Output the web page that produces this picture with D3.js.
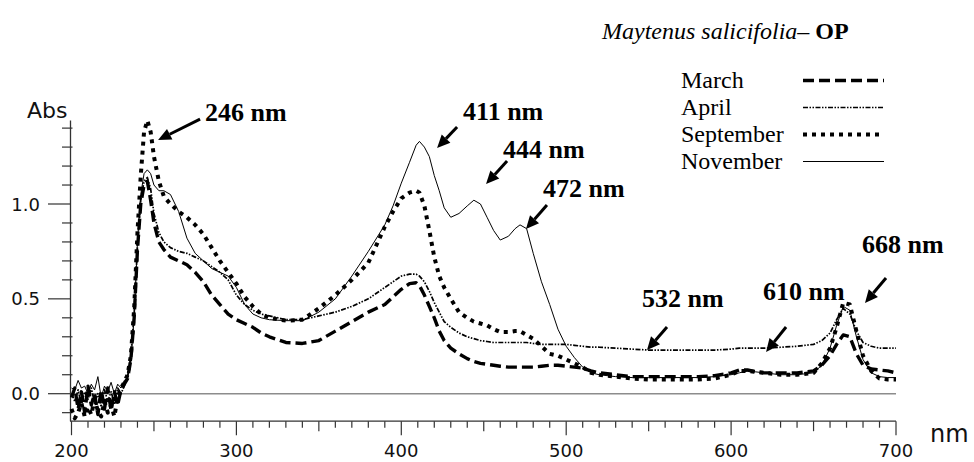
<!DOCTYPE html>
<html>
<head>
<meta charset="utf-8">
<script src="https://cdn.jsdelivr.net/npm/d3@7"></script>
<style>
  html, body { margin: 0; padding: 0; background: #fff; }
  svg { display: block; }
</style>
</head>
<body>
<svg id="chart" width="974" height="462"></svg>
<script>
// ---------------- DATA ----------------
const wavelengths = [
  200,202,204,206,208,210,212,214,216,218,220,222,224,226,228,230,232,234,236,
  238,240,242,244,246,248,250,253,256,260,265,270,275,280,285,290,295,300,305,310,315,320,
  330,340,350,360,370,380,390,395,400,405,409,411,414,417,420,423,426,430,435,440,444,448,452,456,460,465,469,472,476,480,485,490,495,500,505,510,515,520,
  530,540,550,560,570,580,590,600,
  605,610,615,620,630,640,650,655,660,664,668,672,676,680,685,690,695,700
];

const march = [
  -0.02,0.03,-0.08,0.01,-0.10,0.04,-0.06,0.00,-0.11,0.02,-0.08,0.03,-0.09,0.01,-0.06,0.02,0.05,0.08,0.18,
  0.40,0.76,1.00,1.10,1.12,1.02,0.90,0.80,0.76,0.72,0.70,0.68,0.64,0.59,0.52,0.47,0.42,0.39,0.37,0.35,0.32,0.30,
  0.27,0.265,0.28,0.33,0.38,0.43,0.47,0.51,0.55,0.58,0.585,0.57,0.52,0.46,0.40,0.33,0.28,0.24,0.21,0.185,0.17,0.16,0.155,0.15,0.145,0.14,0.14,0.14,0.14,0.14,0.145,0.15,0.15,0.145,0.14,0.135,0.12,0.11,
  0.10,0.09,0.09,0.09,0.09,0.09,0.095,0.11,
  0.125,0.125,0.115,0.11,0.11,0.11,0.12,0.15,0.20,0.26,0.31,0.30,0.21,0.15,0.13,0.125,0.12,0.11
];

const april = [
  0.00,-0.04,0.02,-0.06,0.01,-0.03,0.03,-0.05,0.00,-0.07,0.02,-0.04,0.01,-0.05,0.03,0.00,0.04,0.09,0.20,
  0.42,0.78,1.02,1.12,1.14,1.08,0.95,0.85,0.80,0.77,0.75,0.74,0.72,0.70,0.67,0.64,0.60,0.52,0.47,0.44,0.42,0.41,
  0.39,0.39,0.41,0.43,0.46,0.50,0.56,0.59,0.62,0.63,0.63,0.62,0.59,0.54,0.48,0.43,0.38,0.35,0.32,0.30,0.29,0.28,0.275,0.27,0.27,0.27,0.27,0.27,0.27,0.265,0.26,0.26,0.26,0.26,0.255,0.25,0.245,0.245,
  0.24,0.235,0.23,0.23,0.23,0.23,0.23,0.235,
  0.24,0.24,0.24,0.24,0.245,0.25,0.26,0.28,0.32,0.39,0.45,0.42,0.33,0.27,0.25,0.24,0.24,0.24
];

const september = [
  -0.08,-0.13,-0.10,-0.05,-0.12,-0.07,-0.11,-0.03,-0.09,-0.12,-0.04,-0.10,-0.06,-0.12,-0.02,0.03,0.06,0.10,0.20,
  0.45,0.85,1.15,1.38,1.44,1.38,1.25,1.12,1.04,1.00,0.96,0.93,0.89,0.84,0.77,0.70,0.64,0.58,0.51,0.46,0.42,0.40,
  0.385,0.39,0.45,0.52,0.60,0.69,0.88,0.96,1.03,1.06,1.07,1.06,0.99,0.86,0.72,0.62,0.56,0.50,0.43,0.40,0.38,0.37,0.36,0.34,0.325,0.325,0.33,0.33,0.31,0.29,0.25,0.21,0.20,0.18,0.16,0.14,0.11,0.10,
  0.09,0.08,0.075,0.075,0.075,0.075,0.08,0.10,
  0.12,0.12,0.115,0.11,0.10,0.10,0.11,0.16,0.24,0.35,0.48,0.47,0.33,0.20,0.12,0.08,0.075,0.075
];

const november = [
  0.03,0.02,0.07,0.03,0.04,0.00,0.05,0.02,0.09,-0.02,0.04,0.01,0.06,0.00,0.05,0.03,0.07,0.08,0.18,
  0.40,0.80,1.05,1.16,1.18,1.16,1.10,1.07,1.07,1.05,0.96,0.82,0.74,0.70,0.66,0.64,0.62,0.56,0.47,0.42,0.40,0.39,
  0.385,0.385,0.43,0.50,0.62,0.75,0.89,0.99,1.11,1.22,1.31,1.33,1.30,1.25,1.15,1.07,0.98,0.93,0.95,0.99,1.02,1.00,0.93,0.86,0.81,0.83,0.87,0.89,0.87,0.74,0.59,0.47,0.34,0.25,0.19,0.14,0.11,0.10,
  0.09,0.085,0.085,0.085,0.085,0.085,0.09,0.10,
  0.11,0.12,0.115,0.11,0.10,0.10,0.11,0.15,0.24,0.36,0.46,0.44,0.30,0.18,0.11,0.09,0.085,0.085
];

const seriesNames = ["March", "April", "September", "November"];
const xTickValues = [200, 300, 400, 500, 600, 700];
const yTickValues = [0.0, 0.5, 1.0];
const peakLabels = ["246 nm", "411 nm", "444 nm", "472 nm", "532 nm", "610 nm", "668 nm"];
const peakWavelengths = [252.5, 421.7, 451.4, 475.6, 549, 621.2, 681.2];
const peakAbs = [1.337, 1.295, 1.105, 0.868, 0.23, 0.22, 0.478];
const titleItalic = "Maytenus salicifolia– ";
const titleBold = "OP";

// ---------------- DRAW ----------------
const svg = d3.select("#chart");
const x = d3.scaleLinear().domain([200, 700]).range([71.5, 896]);
const y = d3.scaleLinear().domain([0, 1]).range([393.7, 204]);
const yMin = -0.145, yMax = 1.44;

const styles = {
  March:     { width: 3.4, dash: "11,5", cap: "butt" },
  April:     { width: 1.7, dash: "5,1.5,1.5,1.5,1.5,1.5", cap: "butt" },
  September: { width: 4,   dash: "4,5",  cap: "butt" },
  November:  { width: 1,   dash: null,   cap: "butt" }
};
const seriesValues = { March: march, April: april, September: september, November: november };

// zero line
svg.append("line")
  .attr("x1", 70).attr("x2", x(700))
  .attr("y1", y(0)).attr("y2", y(0))
  .attr("stroke", "#8c8c8c").attr("stroke-width", 1.6);

// x axis (custom ticks)
const axisColor = "#333";
const gx = svg.append("g");
gx.append("line").attr("x1", 70).attr("x2", x(700))
  .attr("y1", y(yMin)).attr("y2", y(yMin))
  .attr("stroke", axisColor).attr("stroke-width", 1.3);
d3.range(200, 701, 10).forEach(v => {
  const len = v % 100 === 0 ? 14 : (v % 50 === 0 ? 10 : 6.5);
  gx.append("line").attr("x1", x(v)).attr("x2", x(v))
    .attr("y1", y(yMin)).attr("y2", y(yMin) + len)
    .attr("stroke", axisColor).attr("stroke-width", 1.2);
});
gx.selectAll("text.xt").data(xTickValues).join("text")
  .attr("class", "xt")
  .attr("x", d => x(d)).attr("y", 457)
  .attr("text-anchor", "middle")
  .attr("font-family", "DejaVu Sans, Verdana, sans-serif")
  .attr("font-size", 18).attr("fill", "#111")
  .text(d => d);
svg.append("text").attr("x", 930).attr("y", 442)
  .attr("font-family", "DejaVu Sans, Verdana, sans-serif")
  .attr("font-size", 24).attr("fill", "#111").text("nm");

// y axis
const gy = svg.append("g");
gy.append("line").attr("x1", 70.5).attr("x2", 70.5)
  .attr("y1", y(yMax)).attr("y2", y(yMin))
  .attr("stroke", axisColor).attr("stroke-width", 1.3);
d3.range(-1, 15).forEach(i => {
  const v = i / 10;
  const major = (i % 5 === 0);
  gy.append("line")
    .attr("x1", major ? 48 : 62).attr("x2", major ? 70.5 : 72.5)
    .attr("y1", y(v)).attr("y2", y(v))
    .attr("stroke", axisColor).attr("stroke-width", 1.2);
});
gy.selectAll("text.yt").data(yTickValues).join("text")
  .attr("class", "yt")
  .attr("x", 40).attr("y", d => y(d) + 6.5)
  .attr("text-anchor", "end")
  .attr("font-family", "DejaVu Sans, Verdana, sans-serif")
  .attr("font-size", 18).attr("fill", "#111")
  .text(d => d3.format(".1f")(d));
svg.append("text").attr("x", 27).attr("y", 118)
  .attr("font-family", "DejaVu Sans, Verdana, sans-serif")
  .attr("font-size", 22).attr("fill", "#111").text("Abs");

// series
const line = d3.line().x((d, i) => x(wavelengths[i])).y(d => y(d)).curve(d3.curveLinear);
seriesNames.forEach(name => {
  const st = styles[name];
  svg.append("path")
    .datum(seriesValues[name])
    .attr("d", line)
    .attr("fill", "none")
    .attr("stroke", "#000")
    .attr("stroke-width", st.width)
    .attr("stroke-dasharray", st.dash)
    .attr("stroke-linecap", st.cap)
    .attr("stroke-linejoin", "round");
});

// title
const title = svg.append("text").attr("x", 602).attr("y", 39)
  .attr("font-family", "Liberation Serif, Times New Roman, serif")
  .attr("font-size", 24).attr("fill", "#000");
title.append("tspan").attr("font-style", "italic").text(titleItalic);
title.append("tspan").attr("font-weight", "bold").text(titleBold);

// legend
const legend = svg.append("g");
seriesNames.forEach((name, i) => {
  const base = 88 + i * 27;
  legend.append("text").attr("x", 681).attr("y", base)
    .attr("font-family", "Liberation Serif, Times New Roman, serif")
    .attr("font-size", 24).attr("fill", "#000").text(name);
  const st = styles[name];
  legend.append("line").attr("x1", 803).attr("x2", 884)
    .attr("y1", base - 7.5).attr("y2", base - 7.5)
    .attr("stroke", "#000").attr("stroke-width", st.width)
    .attr("stroke-dasharray", st.dash);
});

// annotations (arrow tip anchored in data space)
const tailOffsets = [[42,-21],[20,-21],[21,-23],[21,-24],[20,-23],[20,-25],[21,-25]];
const labelOffsets = [[47,-19],[26,-28],[17,-26],[17,-32],[-5,-43],[-3,-52],[-3,-50]];
const ann = svg.append("g");
peakLabels.forEach((lab, i) => {
  const tx = x(peakWavelengths[i]), ty = y(peakAbs[i]);
  const sx = tx + tailOffsets[i][0], sy = ty + tailOffsets[i][1];
  const ang = Math.atan2(ty - sy, tx - sx);
  const hl = 13, hw = 6;
  const bx = tx - hl * Math.cos(ang), by = ty - hl * Math.sin(ang);
  ann.append("line").attr("x1", sx).attr("y1", sy).attr("x2", bx).attr("y2", by)
    .attr("stroke", "#000").attr("stroke-width", 3);
  const px = -Math.sin(ang), py = Math.cos(ang);
  ann.append("path")
    .attr("d", `M${tx},${ty}L${bx + hw*px},${by + hw*py}L${bx - hw*px},${by - hw*py}Z`)
    .attr("fill", "#000");
  ann.append("text")
    .attr("x", tx + labelOffsets[i][0]).attr("y", ty + labelOffsets[i][1])
    .attr("font-family", "Liberation Serif, Times New Roman, serif")
    .attr("font-weight", "bold").attr("font-size", 26).attr("fill", "#000")
    .text(lab);
});
</script>
</body>
</html>
